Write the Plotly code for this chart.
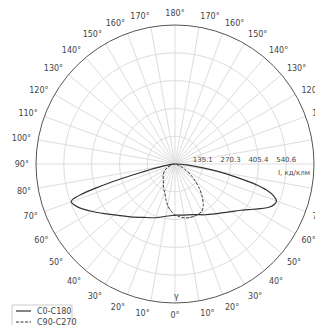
import plotly.graph_objects as go

# C0 half-plane (right side), gamma in degrees from nadir, I in cd/klm
c0_gamma = [0, 10, 20, 30, 40, 50, 55, 60, 65, 68, 70, 72, 74, 76, 78, 80, 83, 86, 90]
c0_I = [249, 252, 262, 285, 315, 360, 392, 440, 500, 522, 525, 505, 465, 395, 300, 220, 112, 55, 0]
# C180 half-plane (left side)
c180_gamma = [0, 10, 20, 30, 40, 50, 55, 60, 65, 68, 70, 71, 72, 73, 74, 75, 76, 77, 80, 85, 90]
c180_I = [249, 258, 278, 300, 335, 385, 420, 462, 508, 530, 537, 525, 480, 410, 330, 240, 175, 130, 60, 20, 0]
# C90 half-plane (right side)
c90_gamma = [0, 5, 10, 15, 20, 25, 30, 35, 40, 45, 50, 55, 60, 65, 70, 80, 90]
c90_I = [249, 258, 266, 270, 271, 269, 264, 240, 205, 168, 128, 95, 60, 38, 22, 8, 0]
# C270 half-plane (left side)
c270_gamma = [0, 6, 10, 14, 19, 23, 29, 36, 47, 59, 67, 80, 90]
c270_I = [249, 225, 205, 180, 151, 137, 117, 96, 79, 57, 37, 12, 0]

series_names = ["C0-C180", "C90-C270"]
r_step = 135.15
r_ticks = [r_step * k for k in range(1, 5)]
r_ticktext = ["135.1", "270.3", "405.4", "540.6"]
ang_vals = list(range(0, 360, 10))
ang_text = [f"{a if a <= 180 else 360 - a}°" for a in ang_vals]

LINE_COLOR = "#333333"
TEXT_COLOR = "#444444"


def loop(g_right, i_right, g_left, i_left):
    th = list(reversed(g_right)) + [360 - g for g in g_left]
    rr = list(reversed(i_right)) + list(i_left)
    th = [t % 360 for t in th]
    return rr, th


r1, t1 = loop(c0_gamma, c0_I, c180_gamma, c180_I)
r2, t2 = loop(c90_gamma, c90_I, c270_gamma, c270_I)

fig = go.Figure()
fig.add_trace(go.Scatterpolar(r=r1, theta=t1, mode="lines", name=series_names[0],
                              line=dict(color=LINE_COLOR, width=1.2, shape="spline", smoothing=0.6)))
fig.add_trace(go.Scatterpolar(r=r2, theta=t2, mode="lines", name=series_names[1],
                              line=dict(color=LINE_COLOR, width=1, dash="3px,1.5px", shape="spline", smoothing=0.6)))

# page body has an 8px margin; figure sized so that it fills the 323x325 window
W, H = 315, 317
ML, MT, PS = 28, 17, 278


def px(xp):  # window pixel -> paper x
    return (xp - 36) / PS


def py(yp):  # window pixel -> paper y
    return 1 - (yp - 25) / PS


shapes = [
    dict(type="rect", xref="paper", yref="paper", x0=px(12), x1=px(72), y0=py(340), y1=py(305),
         line=dict(color="#cccccc", width=1), fillcolor="white", layer="above"),
    dict(type="line", xref="paper", yref="paper", x0=px(16), x1=px(31), y0=py(311), y1=py(311),
         line=dict(color=LINE_COLOR, width=1.2), layer="above"),
    dict(type="line", xref="paper", yref="paper", x0=px(16), x1=px(31), y0=py(322), y1=py(322),
         line=dict(color=LINE_COLOR, width=1, dash="3px,1.5px"), layer="above"),
]

annotations = [
    dict(text="I, кд/клм", x=px(312), y=py(173), xref="paper", yref="paper",
         xanchor="right", yanchor="middle", showarrow=False, font=dict(size=7, color=TEXT_COLOR)),
    dict(text="γ", x=px(176), y=py(296), xref="paper", yref="paper",
         xanchor="center", yanchor="middle", showarrow=False, font=dict(size=8, color=TEXT_COLOR)),
    dict(text=series_names[0], x=px(35), y=py(311), xref="paper", yref="paper",
         xanchor="left", yanchor="middle", showarrow=False, font=dict(size=8, color=TEXT_COLOR)),
    dict(text=series_names[1], x=px(35), y=py(322), xref="paper", yref="paper",
         xanchor="left", yanchor="middle", showarrow=False, font=dict(size=8, color=TEXT_COLOR)),
]

fig.update_layout(
    width=W, height=H,
    margin=dict(l=ML, r=W - ML - PS, t=MT, b=H - MT - PS, autoexpand=False),
    paper_bgcolor="white", plot_bgcolor="white",
    font=dict(family="DejaVu Sans", size=8, color=TEXT_COLOR),
    showlegend=False,
    polar=dict(
        bgcolor="white",
        domain=dict(x=[0, 1], y=[0, 1]),
        angularaxis=dict(rotation=-90, direction="counterclockwise",
                         tickmode="array", tickvals=ang_vals, ticktext=ang_text,
                         showgrid=True, gridcolor="#dddddd", gridwidth=0.8,
                         linecolor="#555555", linewidth=1,
                         ticks="outside", ticklen=5, tickcolor="rgba(0,0,0,0)",
                         tickfont=dict(size=8, color=TEXT_COLOR)),
        radialaxis=dict(range=[0, 5 * r_step], tickmode="array", tickvals=r_ticks + [5 * r_step],
                        ticktext=r_ticktext + [""], angle=0, tickangle=0,
                        side="counterclockwise",
                        showline=False, ticks="", gridcolor="#dddddd", gridwidth=0.8,
                        tickfont=dict(size=7, color=TEXT_COLOR)),
    ),
    shapes=shapes,
    annotations=annotations,
)

fig.write_html("out.html")
